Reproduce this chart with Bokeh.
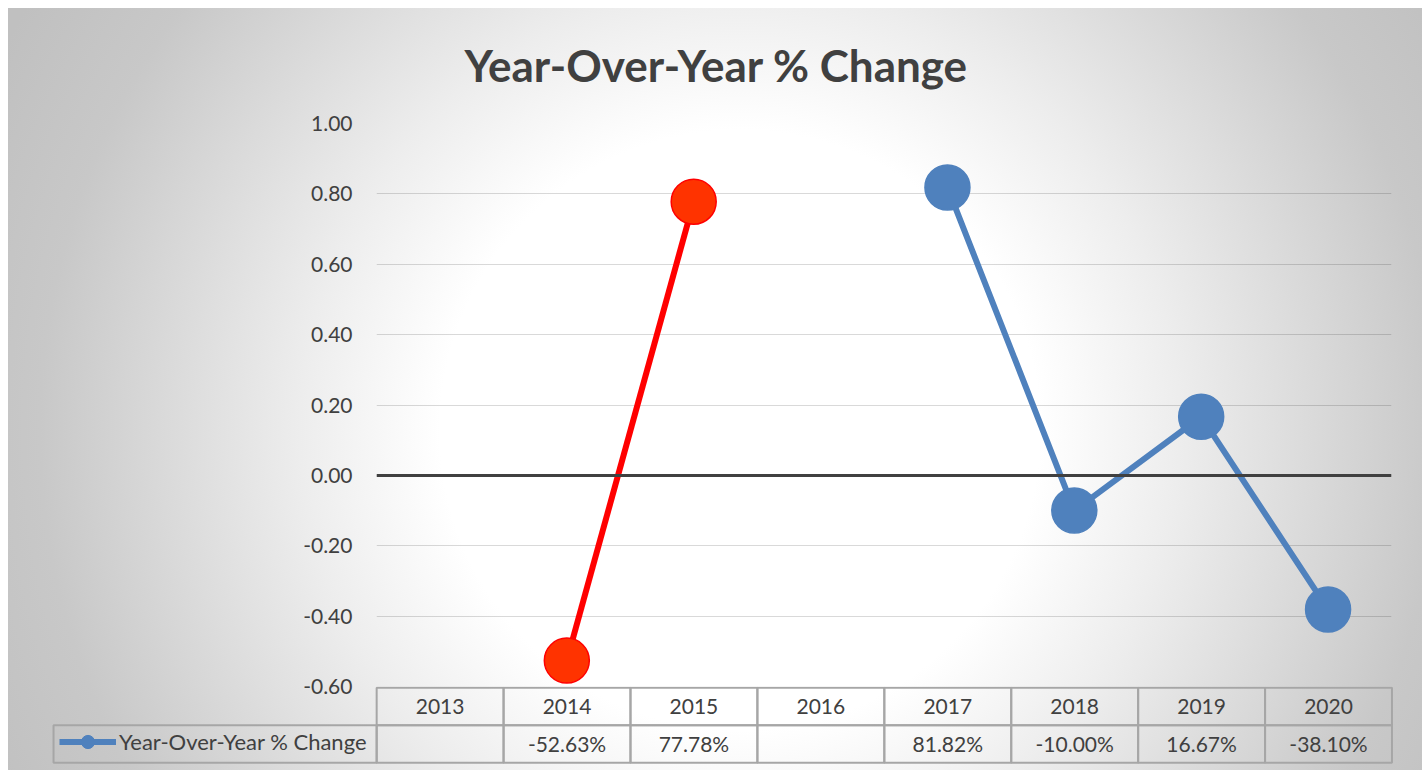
from bokeh.plotting import figure
from bokeh.models import (FactorRange, Range1d, FixedTicker, NumeralTickFormatter, Span,
                          ColumnDataSource, Legend, LegendItem)
from bokeh.embed import file_html
from bokeh.resources import INLINE
from bokeh.core.properties import value

# ---------------- data ----------------
years = ["2013", "2014", "2015", "2016", "2017", "2018", "2019", "2020"]
yoy_change = [None, -0.5263, 0.7778, None, 0.8182, -0.1000, 0.1667, -0.3810]
highlight_years = ["2014", "2015"]
y_ticks = [-0.6, -0.4, -0.2, 0.0, 0.2, 0.4, 0.6, 0.8, 1.0]
series_name = "Year-Over-Year % Change"
chart_title = "Year-Over-Year % Change"

FONT = "Lato"
TXT = "#404040"
BLUE = "#4f81bd"
RED_LINE = "#ff0000"
RED_FILL = "#ff3300"
TABLE_LINE = "#a6a6a6"

W = 1414
OVER = 12            # p1 extends this far below its frame; p2 overlaps it
H1 = 678 + OVER
H2 = 84
CX, CY = 732, 422


def grad(dy):
    return ("radial-gradient(circle 830px at %dpx %dpx, #ffffff 0px, #ffffff 300px, "
            "#ededed 440px, #c8c8c8 700px, #c0c0c0 830px)" % (CX, CY - dy))


# ---------------- main chart ----------------
p1 = figure(width=W, height=H1, x_range=FactorRange(*years), y_range=Range1d(-0.6, 1.0),
            output_backend="svg", toolbar_location=None, x_axis_location=None,
            min_border_left=368, min_border_right=31, min_border_top=113, min_border_bottom=OVER,
            styles={"background": grad(0), "margin-left": "8px", "margin-top": "8px"})
p1.background_fill_alpha = 0
p1.border_fill_alpha = 0
p1.outline_line_color = None

p1.title.text = chart_title
p1.title.align = "left"
p1.title.offset = 88
p1.title.vertical_align = "top"
p1.title.text_font = FONT
p1.title.text_font_size = "44px"
p1.title.text_font_style = "bold"
p1.title.text_color = TXT
p1.title.standoff = 61

ax = p1.yaxis[0]
ax.ticker = FixedTicker(ticks=y_ticks)
ax.formatter = NumeralTickFormatter(format="0.00")
ax.axis_line_color = None
ax.major_tick_line_color = None
ax.minor_tick_line_color = None
ax.major_label_standoff = 18
ax.major_label_text_font = FONT
ax.major_label_text_font_size = "21px"
ax.major_label_text_color = "#404040"

p1.xgrid.visible = False
p1.ygrid.ticker = FixedTicker(ticks=y_ticks)
p1.ygrid.grid_line_color = "black"
p1.ygrid.grid_line_alpha = 0.15
p1.ygrid.grid_line_width = 1

p1.add_layout(Span(location=0, dimension="width", line_color=TXT, line_width=3))

# contiguous runs of data
runs, cur = [], []
for yr, v in zip(years, yoy_change):
    if v is None:
        if cur:
            runs.append(cur)
        cur = []
    else:
        cur.append((yr, v))
if cur:
    runs.append(cur)

for run in runs:
    xs = [r[0] for r in run]
    ys = [r[1] for r in run]
    hot = all(x in highlight_years for x in xs)
    p1.line(x=xs, y=ys, line_color=RED_LINE if hot else BLUE, line_width=6)

pts_x = [yr for yr, v in zip(years, yoy_change) if v is not None]
pts_y = [v for v in yoy_change if v is not None]
fills = [RED_FILL if yr in highlight_years else BLUE for yr in pts_x]
lines = [RED_LINE if yr in highlight_years else BLUE for yr in pts_x]
src = ColumnDataSource(dict(x=pts_x, y=pts_y, fill=fills, line=lines))
p1.scatter(x="x", y="y", source=src, size=45, fill_color="fill", line_color="line", line_width=1.5)

# ---------------- data table ----------------
ncat = len(years)
LEG_W = 2.546
p2 = figure(width=W, height=H2, x_range=Range1d(-2.57, ncat + 0.02), y_range=Range1d(-0.05, 2.03),
            output_backend="svg", toolbar_location=None, x_axis_location=None, y_axis_location=None,
            min_border_left=42, min_border_right=28, min_border_top=0, min_border_bottom=6,
            styles={"background-image": grad(H1),
                    "background-repeat": "no-repeat",
                    "background-position": "0px %dpx" % OVER,
                    "background-size": "100%% calc(100%% - %dpx)" % OVER,
                    "margin-left": "8px", "margin-top": "-%dpx" % OVER})
p2.background_fill_alpha = 0
p2.border_fill_alpha = 0
p2.outline_line_color = None
p2.grid.visible = False

cx = [i + 0.5 for i in range(ncat)]
labels = ["" if v is None else "{:.2f}%".format(v * 100) for v in yoy_change]
p2.rect(x=cx, y=[1.5] * ncat, width=1, height=1, fill_alpha=0, line_color=TABLE_LINE, line_width=2)
p2.rect(x=cx, y=[0.5] * ncat, width=1, height=1, fill_alpha=0, line_color=TABLE_LINE, line_width=2)
p2.rect(x=[-LEG_W / 2], y=[0.5], width=LEG_W, height=1, fill_alpha=0, line_color=TABLE_LINE, line_width=2)

p2.text(x=cx, y=[1.5] * ncat, text=years, text_align="center", text_baseline="middle",
        text_font=value(FONT), text_font_size="21px", text_color=TXT)
p2.text(x=cx, y=[0.5] * ncat, text=labels, text_align="center", text_baseline="middle",
        text_font=value(FONT), text_font_size="21px", text_color=TXT)

# hidden copies of the series, used only to draw the legend key
vx = [c for c, v in zip(cx, yoy_change) if v is not None]
lr = p2.line(x=vx, y=pts_y, line_color=BLUE, line_width=6, visible=False)
sr = p2.scatter(x=vx, y=pts_y, size=14, fill_color=BLUE, line_color=BLUE, visible=False)
leg = Legend(items=[LegendItem(label=series_name, renderers=[lr, sr])],
             location=(9, 6), orientation="horizontal",
             background_fill_alpha=0, border_line_color=None, padding=0, margin=0,
             inactive_fill_alpha=0,
             glyph_width=57, glyph_height=33, label_standoff=3, label_height=20,
             label_text_font=FONT, label_text_font_size="22px", label_text_color=TXT)
p2.add_layout(leg)

open("out.html", "w").write(file_html([p1, p2], INLINE))
